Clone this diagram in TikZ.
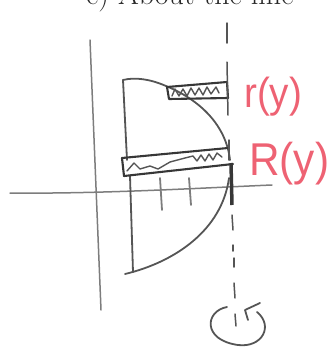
\documentclass[tikz,border=0pt]{standalone}
\usepackage{fontspec}
\newfontfamily\handfont{Liberation Sans}
\definecolor{pencil}{RGB}{85,85,85}
\definecolor{pencillight}{RGB}{125,125,125}
\definecolor{pencildark}{RGB}{55,55,55}
\definecolor{pinkred}{RGB}{238,98,115}
\tikzset{
  axisline/.style={draw=pencillight, line width=1.5pt, line cap=round},
  shapeline/.style={draw=pencil, line width=1.8pt, line cap=round, line join=round},
  rectline/.style={draw=pencildark, line width=2.1pt, line cap=round, line join=round},
  scribble/.style={draw=pencil, line width=1.4pt, line cap=round, line join=round},
  axisdash/.style={draw=pencil, line width=1.5pt, line cap=round},
  pinklabel/.style={text=pinkred, inner sep=0pt, anchor=west},
}
\begin{document}
\begin{tikzpicture}[x=1pt,y=-1pt]
\useasboundingbox (0,0) rectangle (328,360);
\clip (0,0) rectangle (328,360);
% cut-off heading at top
\node[anchor=base west, inner sep=0pt, font=\fontsize{30}{36}\selectfont, text=black!85] (title) at (86,4) {c) About the line};
% axes
\draw[axisline] (90,40) -- (101,310);
\draw[axisline] (10,193) .. controls (100,194) and (200,188) .. (272,185);
% solid outline
\draw[shapeline] (123,80) .. controls (135,77) and (150,79) .. (166,86)
  .. controls (200,100) and (226,125) .. (230,160);
\draw[shapeline] (123,80) -- (127,160);
\draw[shapeline] (130,176) -- (133,272);
\draw[shapeline] (125,274) .. controls (175,262) and (222,230) .. (229,178);
% ticks
\draw[shapeline, draw=pencillight] (160,178) -- (162,210);
\draw[shapeline, draw=pencillight] (189,178) -- (191,205);
% upper rectangle (shell of radius r)
\draw[rectline] (167,87) -- (227,82) -- (228,98) -- (169,99) -- cycle;
\draw[scribble] (172,96) -- (175,89) -- (179,96) -- (183,89) -- (187,96) -- (191,88) -- (195,95) -- (199,88) -- (203,95) -- (207,87) -- (211,94) -- (216,87) -- (219,93);
% lower rectangle (shell of radius R)
\draw[rectline] (122,158) -- (228,148);
\draw[rectline] (124,176) -- (233,164);
\draw[rectline] (122,158) -- (124,176);
\draw[scribble] (127,171) -- (134,163) -- (140,169) -- (150,166) -- (158,169) -- (170,162) -- (185,158) -- (193,156) -- (197,161) -- (201,155) -- (205,161) -- (209,154) -- (213,160) -- (217,153) -- (222,157);
\draw[draw=pencildark, line width=3.5pt] (231,163) -- (232,205);
% dashed axis of rotation
\draw[axisdash] (227,23) -- (227,43);
\draw[axisdash] (227,62) -- (228,115);
\draw[axisdash] (229,140) -- (229,160);
\draw[axisdash] (232,215) -- (233,230);
\draw[axisdash] (233,245) -- (233,251);
\draw[axisdash] (234,258) -- (234,267);
\draw[axisdash] (234,283) -- (235,298);
\draw[axisdash] (235,314) -- (236,326);
% rotation arrow
\draw[shapeline] (227,307) .. controls (205,311) and (202,340) .. (238,345)
  .. controls (262,348) and (274,326) .. (257,312);
\draw[shapeline] (260,303) -- (245,310) -- (248,320);
% labels
\node[pinklabel, font=\handfont\fontsize{42}{42}\selectfont] (rlabel) at (244,97) {\scalebox{0.92}[1]{r(y)}};
\node[pinklabel, font=\handfont\fontsize{46}{46}\selectfont] (Rlabel) at (249,164) {\scalebox{0.92}[1]{R(y)}};
\end{tikzpicture}
\end{document}
